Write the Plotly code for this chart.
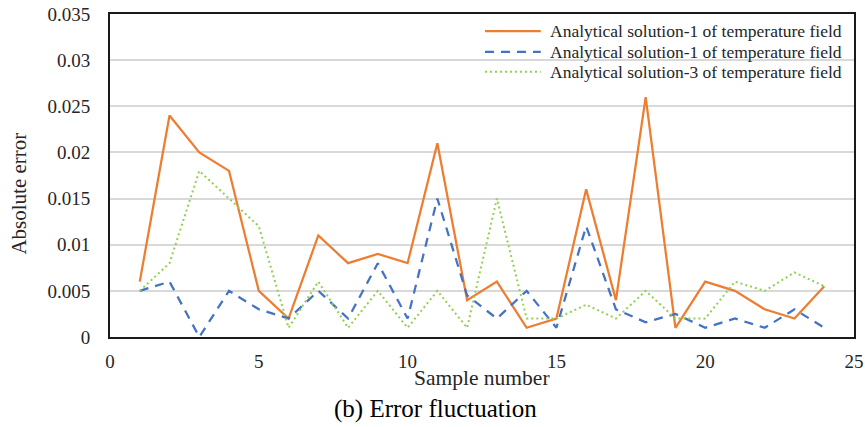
import plotly.graph_objects as go

samples = list(range(1, 25))
sol1 = [0.006, 0.024, 0.020, 0.018, 0.005, 0.002, 0.011, 0.008, 0.009, 0.008, 0.021, 0.004,
        0.006, 0.001, 0.002, 0.016, 0.004, 0.026, 0.001, 0.006, 0.005, 0.003, 0.002, 0.0055]
sol2 = [0.005, 0.006, 0.000, 0.005, 0.003, 0.002, 0.005, 0.002, 0.008, 0.002, 0.015, 0.0045,
        0.002, 0.005, 0.001, 0.012, 0.003, 0.0016, 0.0025, 0.001, 0.002, 0.001, 0.003, 0.001]
sol3 = [0.005, 0.008, 0.018, 0.015, 0.012, 0.001, 0.006, 0.001, 0.005, 0.001, 0.005, 0.001,
        0.015, 0.002, 0.002, 0.0035, 0.002, 0.005, 0.002, 0.002, 0.006, 0.005, 0.007, 0.0055]
names = ["Analytical solution-1 of temperature field",
         "Analytical solution-1 of temperature field",
         "Analytical solution-3 of temperature field"]
colors = ["#ED7D31", "#4472C4", "#92D050"]
dashes = ["solid", "9px,7px", "2px,3px"]
widths = [2.25, 2.25, 2]
y_ticks = [0, 0.005, 0.01, 0.015, 0.02, 0.025, 0.03, 0.035]
y_ticktext = ["0", "0.005", "0.01", "0.015", "0.02", "0.025", "0.03", "0.035"]
x_ticks = [0, 5, 10, 15, 20, 25]

FONT = "Liberation Serif"

fig = go.Figure()
for ys, nm, c, d, w in zip([sol1, sol2, sol3], names, colors, dashes, widths):
    fig.add_trace(go.Scatter(x=samples, y=ys, mode="lines", name=nm,
                             line=dict(color=c, dash=d, width=w), showlegend=False))

# custom legend (line samples + labels)
leg_y = [0.947, 0.883, 0.821]
for yy, nm, c, d, w in zip(leg_y, names, colors, dashes, widths):
    fig.add_shape(type="line", xref="paper", yref="paper", x0=0.504, x1=0.579, y0=yy, y1=yy,
                  line=dict(color=c, dash=d, width=w))
    fig.add_annotation(xref="paper", yref="paper", x=0.589, y=yy, text=nm, showarrow=False,
                       xanchor="left", yanchor="middle",
                       font=dict(family=FONT, size=17.5, color="#262626"))

fig.add_annotation(xref="paper", yref="paper", x=(19 - 110) / 744, y=0.444, text="Absolute error",
                   textangle=-90, showarrow=False, xanchor="center", yanchor="middle",
                   font=dict(family=FONT, size=21, color="#262626"))
fig.add_annotation(xref="paper", yref="paper", x=0.5, y=(337 - 378) / 323, text="Sample number",
                   showarrow=False, xanchor="center", yanchor="middle",
                   font=dict(family=FONT, size=21.5, color="#262626"))
fig.add_annotation(xref="paper", yref="paper", x=(435 - 110) / 744, y=(337 - 409) / 323,
                   text="(b) Error fluctuation", showarrow=False, xanchor="center", yanchor="middle",
                   font=dict(family=FONT, size=25, color="#000000"))

fig.update_layout(
    width=865, height=427,
    margin=dict(l=110, r=11, t=14, b=90, autoexpand=False),
    paper_bgcolor="white", plot_bgcolor="white",
    font=dict(family=FONT, color="#262626"),
)
fig.update_xaxes(range=[0, 25], tickvals=x_ticks, showgrid=False, zeroline=False, automargin=False,
                 showline=True, mirror=True, linecolor="#1a1a1a", linewidth=2,
                 ticks="", ticklabelstandoff=6, ticklabeloverflow="allow",
                 tickfont=dict(family=FONT, size=19, color="#262626"))
fig.update_yaxes(range=[0, 0.035], tickvals=y_ticks, ticktext=y_ticktext, showgrid=True,
                 gridcolor="#d9d9d9", gridwidth=1.5, zeroline=False, automargin=False,
                 showline=True, mirror=True, linecolor="#1a1a1a", linewidth=2,
                 ticks="", ticklabelstandoff=14, ticklabeloverflow="allow",
                 tickfont=dict(family=FONT, size=19, color="#262626"))

fig.write_html("out.html", config={"displayModeBar": False},
               post_script="document.body.style.margin='0';")
